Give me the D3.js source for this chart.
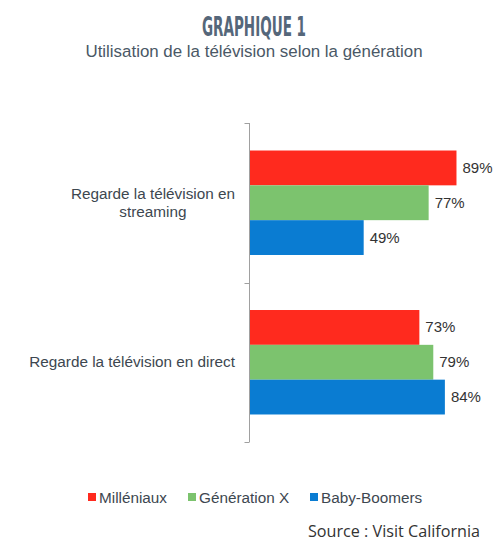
<!DOCTYPE html>
<html>
<head>
<meta charset="utf-8">
<script src="https://cdn.jsdelivr.net/npm/d3@7"></script>
<style>
  body { margin: 0; background: #fff; }
  svg { display: block; }
</style>
</head>
<body>
<svg id="chart" width="500" height="546"></svg>
<script>
// data
var categories = ['Regarde la télévision en streaming', 'Regarde la télévision en direct'];
var series = ['Milléniaux', 'Génération X', 'Baby-Boomers'];
var colors = ['#ff2a1e', '#7cc36e', '#0a7cd2'];
var milleniaux = [0.89, 0.73];
var generationX = [0.77, 0.79];
var babyBoomers = [0.49, 0.84];
var values = [milleniaux, generationX, babyBoomers];

var fv = {
	'top': 123,
	'bottom': 442,
	'left': 250,
	'right': 482
};

var svg = d3.select('#chart');
var textColor = '#3d4750';
var font = '"Liberation Sans", Arial, sans-serif';

//title
svg.append('text')
	.attr('x', 254)
	.attr('y', 36)
	.attr('text-anchor', 'middle')
	.attr('textLength', 104)
	.attr('lengthAdjust', 'spacingAndGlyphs')
	.style('font-family', '"DejaVu Sans Condensed", "DejaVu Sans"')
	.style('font-weight', 'bold')
	.style('font-size', '26px')
	.style('fill', '#55677a')
	.text('GRAPHIQUE 1');

svg.append('text')
	.attr('x', 254)
	.attr('y', 57)
	.attr('text-anchor', 'middle')
	.style('font-family', font)
	.style('font-size', '16.9px')
	.style('fill', '#4a5866')
	.text('Utilisation de la télévision selon la génération');

//scales
var x = d3.scaleLinear()
	.domain([0, 1])
	.range([fv.left, fv.right]);

var y = d3.scaleBand()
	.domain(categories)
	.range([fv.top, fv.bottom]);

var ySub = d3.scaleBand()
	.domain(series)
	.range([0, y.bandwidth()])
	.paddingInner(0)
	.paddingOuter(0.79);

//axis
var axis = svg.append('g')
	.attr('transform', 'translate(' + (fv.left - 0.5) + ',0)');

axis.append('line')
	.attr('y1', fv.top)
	.attr('y2', fv.bottom)
	.style('stroke', '#a0a0a0');

var tickYs = categories.map(function(c) { return y(c); }).concat([y(categories[categories.length - 1]) + y.bandwidth()]);
axis.selectAll('.tick')
	.data(tickYs)
	.enter().append('line')
	.attr('x1', -5)
	.attr('x2', 0)
	.attr('y1', function(d) { return Math.round(d) + 0.5; })
	.attr('y2', function(d) { return Math.round(d) + 0.5; })
	.style('stroke', '#a0a0a0');

//bars
var groups = svg.selectAll('.cat')
	.data(categories)
	.enter().append('g')
	.attr('class', 'cat')
	.attr('transform', function(d) { return 'translate(0,' + y(d) + ')'; });

groups.each(function(cat, ci) {
	var g = d3.select(this);
	series.forEach(function(s, si) {
		var v = values[si][ci];
		g.append('rect')
			.attr('x', x(0))
			.attr('y', ySub(s))
			.attr('width', x(v) - x(0))
			.attr('height', ySub.bandwidth())
			.style('fill', colors[si]);

		g.append('text')
			.attr('x', x(v) + 6)
			.attr('y', ySub(s) + ySub.bandwidth() / 2 + 5)
			.style('font-family', font)
			.style('font-size', '15px')
			.style('fill', '#333')
			.text(d3.format('.0%')(v));
	});
});

//category labels, wrapped, block right-aligned
var labelLines = [['Regarde la télévision en', 'streaming'], ['Regarde la télévision en direct']];
categories.forEach(function(cat, ci) {
	var lines = labelLines[ci];
	var cy = y(cat) + y.bandwidth() / 2;
	var lh = 18;
	var first = svg.append('text')
		.attr('x', 235)
		.attr('y', cy + 5 - (lines.length - 1) * lh / 2)
		.attr('text-anchor', 'end')
		.style('font-family', font)
		.style('font-size', '15.3px')
		.style('fill', textColor)
		.text(lines[0]);
	var w = first.node().getComputedTextLength();
	for (var i = 1; i < lines.length; i++) {
		svg.append('text')
			.attr('x', 235 - w / 2)
			.attr('y', cy + 5 - (lines.length - 1) * lh / 2 + i * lh)
			.attr('text-anchor', 'middle')
			.style('font-family', font)
			.style('font-size', '15.3px')
			.style('fill', textColor)
			.text(lines[i]);
	}
});

//legend
var legendX = [88, 188, 310];
var legend = svg.selectAll('.legend')
	.data(series)
	.enter().append('g')
	.attr('class', 'legend')
	.attr('transform', function(d, i) { return 'translate(' + legendX[i] + ',493)'; });

legend.append('rect')
	.attr('width', 8)
	.attr('height', 8)
	.style('fill', function(d, i) { return colors[i]; });

legend.append('text')
	.attr('x', 11)
	.attr('y', 9.5)
	.style('font-family', font)
	.style('font-size', '15.3px')
	.style('fill', textColor)
	.text(function(d) { return d; });

//source
svg.append('text')
	.attr('x', 308)
	.attr('y', 537)
	.attr('textLength', 172)
	.attr('lengthAdjust', 'spacingAndGlyphs')
	.style('font-family', '"Open Sans", sans-serif')
	.style('font-size', '17px')
	.style('fill', '#333')
	.text('Source : Visit California');
</script>
</body>
</html>
